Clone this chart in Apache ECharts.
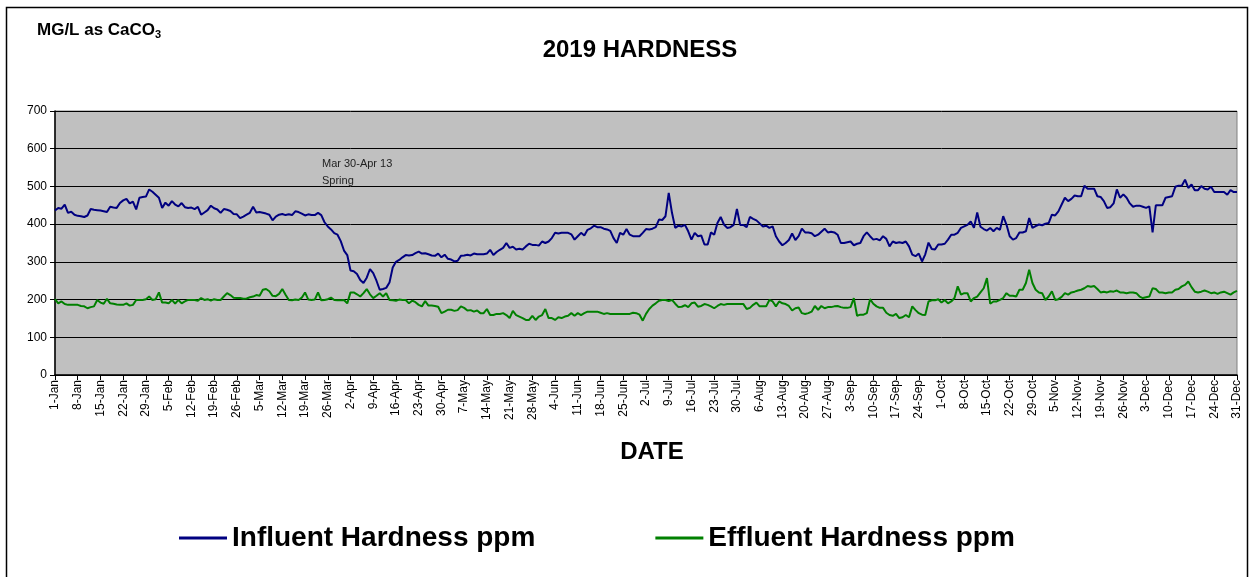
<!DOCTYPE html>
<html>
<head>
<meta charset="utf-8">
<title>2019 Hardness</title>
<script src="https://cdn.jsdelivr.net/npm/echarts@6/dist/echarts.min.js"></script>
<style>
  html, body { margin: 0; padding: 0; background: #fff; }
  #main { width: 1251px; height: 577px; }
</style>
</head>
<body>
<div id="main"></div>
<script>
// daily readings for 2019 (mg/L as CaCO3)
var influent = [
  436,443,441,452,430,433,425,422,421,419,
  423,440,438,437,436,434,432,446,444,443,
  456,463,467,455,460,439,470,472,473,492,
  486,478,470,443,457,449,461,452,447,456,
  445,443,444,440,446,425,431,437,449,442,
  439,430,440,438,435,427,426,416,420,425,
  430,446,431,432,430,428,425,410,420,425,
  427,424,426,424,434,432,428,423,426,424,
  424,430,424,405,394,386,376,372,355,330,
  318,277,275,268,252,244,258,281,270,250,
  226,228,231,245,285,300,305,312,318,317,
  318,323,327,322,323,320,317,316,322,312,
  319,308,306,301,303,316,317,319,317,322,
  320,320,320,322,332,318,326,332,337,350,
  337,340,333,335,333,341,348,345,345,343,
  354,350,354,363,377,375,377,377,377,373,
  359,368,377,370,385,389,396,392,392,388,
  386,382,363,350,377,372,387,372,368,368,
  368,377,387,386,388,392,412,411,421,483,
  430,390,396,394,398,381,359,377,368,370,
  346,346,378,372,403,419,399,390,392,398,
  440,398,398,392,419,414,410,402,394,396,
  390,394,368,354,344,350,358,375,358,368,
  388,378,378,376,368,372,380,388,378,380,
  378,372,350,350,352,354,344,348,350,368,
  378,368,359,361,357,368,361,341,354,350,
  352,350,354,341,319,315,322,301,320,351,
  334,333,346,346,348,359,372,372,377,390,
  394,398,407,390,431,393,387,383,390,381,
  390,385,421,399,368,359,363,378,378,381,
  416,390,395,399,397,401,403,425,423,434,
  452,470,461,467,476,474,474,502,494,494,
  494,474,472,461,443,445,455,492,470,479,
  470,455,446,449,449,446,443,447,378,450,
  450,450,470,472,474,499,502,502,518,496,
  505,490,490,501,494,492,499,485,485,485,
  485,478,490,485,485
];

var effluent = [
  201,190,195,188,186,186,186,186,183,182,
  177,180,182,199,192,189,202,190,189,187,
  186,186,190,184,186,199,199,199,201,208,
  199,201,219,192,192,190,199,189,199,190,
  195,199,199,199,197,204,199,201,197,201,
  199,199,208,217,212,205,204,204,202,203,
  206,208,212,210,226,228,222,210,209,215,
  228,213,199,198,200,199,205,219,200,199,
  200,219,198,199,201,205,199,198,198,199,
  190,219,219,214,208,217,228,214,204,210,
  217,208,217,199,198,197,200,199,199,190,
  197,193,186,182,196,184,184,183,181,164,
  168,173,173,170,172,182,178,171,172,168,
  171,164,164,175,159,159,162,162,164,159,
  151,170,159,155,151,146,146,157,146,155,
  159,175,151,151,146,153,151,155,157,164,
  157,164,159,164,168,168,168,168,165,162,
  164,162,162,162,162,162,162,162,165,164,
  160,144,162,175,184,190,197,199,199,196,
  199,189,180,181,185,180,190,192,181,183,
  188,186,182,177,183,188,186,188,188,188,
  188,188,188,175,178,186,192,182,182,182,
  199,195,182,195,190,188,183,171,177,179,
  164,162,164,168,183,173,183,177,180,180,
  182,183,180,178,178,180,204,157,160,160,
  164,201,189,182,178,178,165,159,157,162,
  151,153,159,153,182,172,164,160,159,195,
  198,198,201,192,199,190,195,204,235,213,
  217,217,195,204,208,219,230,257,189,195,
  195,199,204,217,210,210,208,226,226,244,
  279,244,226,219,217,199,208,222,199,201,
  207,217,213,219,221,224,226,230,236,234,
  236,228,219,221,219,222,221,224,219,219,
  217,219,219,217,208,204,206,208,230,228,
  219,219,217,219,219,226,228,235,239,248,
  233,221,219,221,224,221,217,219,215,219,
  221,217,213,219,223
];

var monthNames = ['Jan','Feb','Mar','Apr','May','Jun','Jul','Aug','Sep','Oct','Nov','Dec'];
var monthDays = [31,28,31,30,31,30,31,31,30,31,30,31];
var seriesNames = ['Influent Hardness ppm', 'Effluent Hardness ppm'];

// one category per day: "1-Jan" ... "31-Dec"
var dates = [];
monthNames.forEach(function (m, i) {
  for (var d = 1; d <= monthDays[i]; d++) dates.push(d + '-' + m);
});

var font = '"Liberation Sans", Arial, sans-serif';
var chart = echarts.init(document.getElementById('main'));

var option = {
  backgroundColor: '#fff',
  animation: false,
  textStyle: { fontFamily: font },
  title: {
    text: '2019 HARDNESS',
    left: 635, top: 33, textAlign: 'center',
    textStyle: { fontSize: 24, fontWeight: 'bold', color: '#000', fontFamily: font }
  },
  legend: {
    data: seriesNames,
    left: 174, top: 519,
    icon: 'rect',
    itemWidth: 48, itemHeight: 3, itemGap: 120,
    textStyle: { fontSize: 28, fontWeight: 'bold', color: '#000', fontFamily: font }
  },
  grid: {
    left: 55, right: 14, top: 111, bottom: 202,
    show: true, backgroundColor: '#c0c0c0', borderColor: '#808080', borderWidth: 1
  },
  xAxis: {
    type: 'category',
    data: dates,
    boundaryGap: false,
    axisLine: { lineStyle: { color: '#000', width: 1.5 } },
    axisTick: { interval: 6, length: 5, lineStyle: { color: '#000' } },
    axisLabel: { interval: 6, rotate: 90, fontSize: 12, color: '#000', margin: 5 },
    splitLine: { show: false }
  },
  yAxis: {
    type: 'value',
    min: 0, max: 700, interval: 100,
    axisLine: { show: true, lineStyle: { color: '#000', width: 1.5 } },
    axisTick: { show: true, length: 5, lineStyle: { color: '#000' } },
    axisLabel: { fontSize: 12, color: '#000', margin: 8 },
    splitLine: { lineStyle: { color: '#000', width: 1 } }
  },
  series: [
    {
      name: seriesNames[0], type: 'line', data: influent,
      symbol: 'none', color: '#000080',
      lineStyle: { width: 2, color: '#000080' }
    },
    {
      name: seriesNames[1], type: 'line', data: effluent,
      symbol: 'none', color: '#008000',
      lineStyle: { width: 2, color: '#008000' }
    }
  ],
  graphic: [
    {
      type: 'rect', silent: true,
      shape: { x: 6.5, y: 7.5, width: 1241, height: 610 },
      style: { fill: 'none', stroke: '#000', lineWidth: 1.5 }
    },
    {
      type: 'text', left: 37, top: 22,
      style: {
        text: '{a|MG/L as CaCO}{s|3}',
        rich: {
          a: { fontSize: 17, fontWeight: 'bold', fontFamily: font, fill: '#000' },
          s: { fontSize: 11, fontWeight: 'bold', fontFamily: font, fill: '#000', padding: [9, 0, 0, 0] }
        }
      }
    },
    {
      type: 'text', left: 322, top: 155,
      style: { text: 'Mar 30-Apr 13\nSpring', fontSize: 11, lineHeight: 17, fontFamily: font, fill: '#222' }
    },
    {
      type: 'text', x: 652, y: 440,
      style: { text: 'DATE', fontSize: 24, fontWeight: 'bold', fontFamily: font, fill: '#000', textAlign: 'center' }
    }
  ]
};

chart.setOption(option);
</script>
</body>
</html>
